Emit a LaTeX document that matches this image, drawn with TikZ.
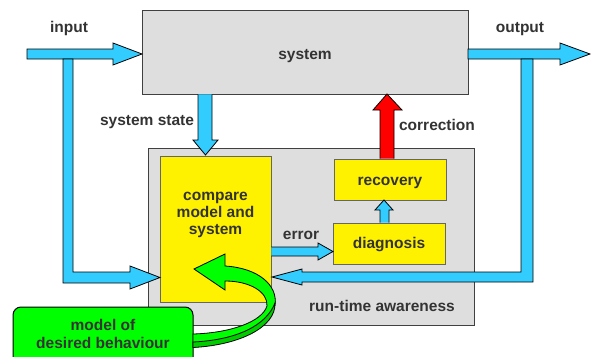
\documentclass[tikz,border=0pt]{standalone}
\usepackage{fontspec}
\setmainfont{Liberation Sans}
\begin{document}
\begin{tikzpicture}[x=1pt,y=-1pt,
  txt/.style={text=black!80,font=\fontsize{15.5}{17}\selectfont\bfseries,inner sep=0pt,anchor=base},
  graybox/.style={draw=black!75,fill=black!13,line width=0.9pt},
  yelbox/.style={draw=black!60,fill=yellow,line width=0.8pt},
  barrow/.style={draw=black,fill=skyblue,line width=0.8pt,line join=miter},
  rarrow/.style={draw=black,fill=red,line width=0.8pt},
  garrow/.style={draw=black,fill=green,line width=0.8pt},
  darkg/.style={draw=black,fill=green!80!black,line width=0.8pt}
]
\definecolor{skyblue}{RGB}{51,204,255}
\useasboundingbox (0,0) rectangle (591,356);
\clip (0,0) rectangle (591,356);

% boxes
\node[graybox,minimum width=326pt,minimum height=84pt,inner sep=0pt] (sys) at (305,52) {};
\node[txt] (systxt) at (305,59) {system};
\node[graybox,minimum width=326pt,minimum height=177pt,inner sep=0pt] (rta) at (311,236.5) {};
\node[txt] (rtatxt) at (382,311.5) {run-time awareness};
\node[yelbox,minimum width=111pt,minimum height=146pt,inner sep=0pt] (cmp) at (215.5,229) {};
\node[txt] (cmp1) at (215.5,200.5) {compare};
\node[txt] (cmp2) at (215.5,217.5) {model and};
\node[txt] (cmp3) at (215.5,234.3) {system};
\node[yelbox,minimum width=112pt,minimum height=41pt,inner sep=0pt] (rec) at (390,179.5) {};
\node[txt] (rectxt) at (390,185) {recovery};
\node[yelbox,minimum width=112pt,minimum height=41pt,inner sep=0pt] (dia) at (389,243.5) {};
\node[txt] (diatxt) at (389,248.3) {diagnosis};

% input arrows
\draw[barrow] (27,49) -- (113,49) -- (113,43) -- (142,54) -- (113,65) -- (113,59) -- (27,59) -- cycle;
\draw[barrow] (63,59) -- (63,283) -- (130,283) -- (130,289) -- (160,277.5) -- (130,266) -- (130,272) -- (73,272) -- (73,59) -- cycle;

% output arrows
\draw[barrow] (468,49) -- (560,49) -- (560,43) -- (590,54) -- (560,65) -- (560,59) -- (468,59) -- cycle;
\draw[barrow] (533,59) -- (533,282) -- (302,282) -- (302,285) -- (272,277) -- (302,269) -- (302,272) -- (521,272) -- (521,59) -- cycle;

% system state
\draw[barrow] (sys.south -| 198,0) -- (198,140) -- (193,140) -- (205.5,155) -- (218,140) -- (212,140) -- (sys.south -| 212,0);

% correction
\draw[rarrow] (rec.north -| 380,0) -- (380,110) -- (373,110) -- (387,94) -- (402,110) -- (394,110) -- (rec.north -| 394,0);

% diagnosis -> recovery
\draw[barrow] (dia.north -| 380,0) -- (380,210) -- (375,210) -- (384,200) -- (393,210) -- (389,210) -- (dia.north -| 389,0);

% error
\draw[barrow] (cmp.east |- 0,247) -- (318,247) -- (318,243) -- (333,251.5) -- (318,260) -- (318,256) -- (cmp.east |- 0,256);

% labels
\node[txt] (inlab) at (69,32.5) {input};
\node[txt] (outlab) at (520,32.5) {output};
\node[txt] (sslab) at (147,125) {system state};
\node[txt] (corlab) at (437,130) {correction};
\node[txt] (errlab) at (301,239.3) {error};

% model box
\node[draw=black,fill=green,line width=1pt,rounded corners=8pt,minimum width=180pt,minimum height=60pt,inner sep=0pt] (mdl) at (103,337) {};
\node[txt] (mdl1) at (103,330) {model of};
\node[txt] (mdl2) at (103,348.3) {desired behaviour};

% green curved arrow
\draw[garrow,line join=miter] (194,269) -- (225,254) -- (225,266)
  .. controls (258,268) and (278,285) .. (275,305)
  .. controls (270,328) and (235,344) .. (193,347) -- (193,334)
  .. controls (230,333) and (262,322) .. (267,306)
  .. controls (268,292) and (250,281) .. (225,281) -- (225,290) -- cycle;
\draw[darkg] (275,303) .. controls (276,327) and (240,345) .. (193,347.5)
  -- (193,342) .. controls (236,340) and (266,326) .. (275,303) -- cycle;
\end{tikzpicture}
\end{document}
